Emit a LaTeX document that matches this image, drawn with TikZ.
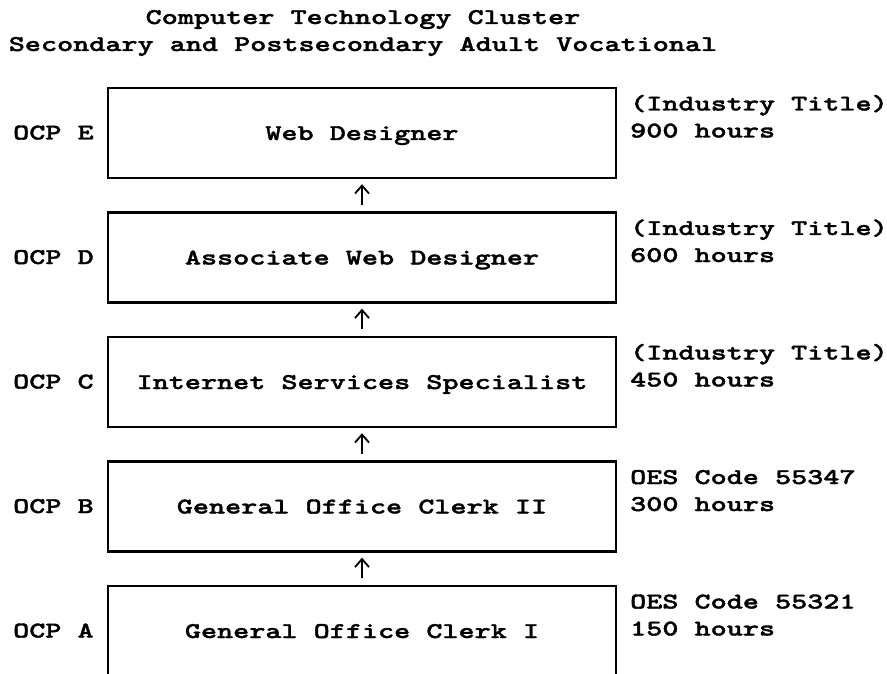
\documentclass[tikz,border=0pt]{standalone}
\usepackage{fontspec}
\newfontfamily\cour[Extension=.otf,FakeStretch=1.363,FakeBold=1.6]{lmmonolt10-bold}
\usetikzlibrary{arrows.meta}
\begin{document}
\begin{tikzpicture}[x=1pt,y=-1pt,
  every node/.style={font=\cour\fontsize{22.5}{26}\selectfont, inner sep=0pt},
  box/.style={draw, line width=2.4pt, minimum width=508pt, minimum height=90pt, text height=14pt, text depth=0pt},
  lbl/.style={anchor=base west},
  arr/.style={line width=1.8pt, -{Straight Barb[length=8pt,width=14pt,line width=1.8pt]}, shorten <=6.5pt, shorten >=5pt}]
\useasboundingbox (0,0) rectangle (887,674);
\clip (0,0) rectangle (887,674);
% title
\node[anchor=base] (t1) at (363,24) {Computer Technology Cluster};
\node[anchor=base] (t2) at (363,51) {Secondary and Postsecondary Adult Vocational};
% boxes
\node[box] (E) at (362,133) {Web Designer};
\node[box] (D) at (362,257.5) {Associate Web Designer};
\node[box] (C) at (362,382) {Internet Services Specialist};
\node[box] (B) at (362,506.5) {General Office Clerk II};
\node[box] (A) at (362,631) {General Office Clerk I};
% arrows
\draw[arr] (D.north) -- (E.south);
\draw[arr] (C.north) -- (D.south);
\draw[arr] (B.north) -- (C.south);
\draw[arr] (A.north) -- (B.south);
% left labels
\node[lbl] (lE) at (13,139.5) {OCP E};
\node[lbl] (lD) at (13,264) {OCP D};
\node[lbl] (lC) at (13,388.5) {OCP C};
\node[lbl] (lB) at (13,513) {OCP B};
\node[lbl] (lA) at (13,637.5) {OCP A};
% right labels
\node[lbl] (rE1) at (630,110.5) {(Industry Title)};
\node[lbl] (rE2) at (630,137.5) {900 hours};
\node[lbl] (rD1) at (630,235) {(Industry Title)};
\node[lbl] (rD2) at (630,262) {600 hours};
\node[lbl] (rC1) at (630,359.5) {(Industry Title)};
\node[lbl] (rC2) at (630,386.5) {450 hours};
\node[lbl] (rB1) at (630,484) {OES Code 55347};
\node[lbl] (rB2) at (630,511) {300 hours};
\node[lbl] (rA1) at (630,608.5) {OES Code 55321};
\node[lbl] (rA2) at (630,635.5) {150 hours};
\end{tikzpicture}
\end{document}
